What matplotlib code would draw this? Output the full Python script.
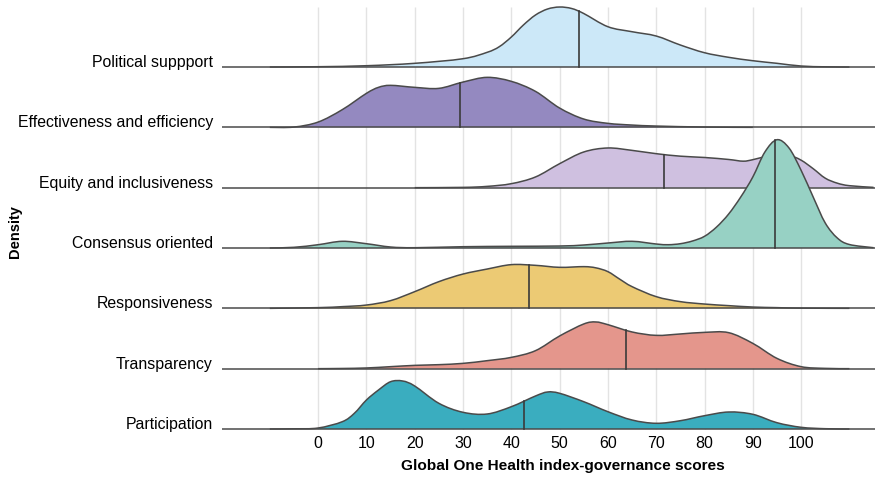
import numpy as np
import matplotlib
matplotlib.use("Agg")
import matplotlib.pyplot as plt
from matplotlib.path import Path
from matplotlib.patches import PathPatch

plt.rcParams["font.family"] = ["Liberation Sans", "DejaVu Sans"]

# Ridge data (x = score, h = ridge height, arbitrary units)
categories = ["Political suppport", "Effectiveness and efficiency", "Equity and inclusiveness",
              "Consensus oriented", "Responsiveness", "Transparency", "Participation"]
colors = ["#cce8f8", "#9489c0", "#cfc0e0", "#97d1c4", "#ecca74", "#e4968c", "#3aadbf"]

political_x = [-10, 0, 10, 20, 30, 35, 37.5, 40, 42.5, 45, 47.5, 50, 52.5, 55, 60, 65, 70, 75, 80, 85, 90, 95, 100, 105, 110]
political_h = [0, 0.3, 1.3, 3.7, 8.3, 14.7, 20.3, 30, 42, 52, 58, 60, 58.5, 53.5, 40.3, 35.3, 31, 22, 14.3, 9.7, 6.3, 3.7, 1, 0.2, 0]

effectiveness_x = [-10, -5, 0, 5, 10, 12.5, 15, 20, 25, 30, 35, 40, 45, 50, 55, 60, 65, 70, 80, 90]
effectiveness_h = [0, 0.3, 5.3, 17.7, 34, 40, 42, 40, 39, 45.3, 50, 46, 36, 19.3, 8.3, 4, 2.3, 1.3, 0.3, 0]

equity_x = [20, 30, 35, 40, 45, 50, 55, 60, 65, 70, 75, 80, 85, 88, 90, 92.5, 95, 97.5, 100, 102.5, 105, 107.5, 110, 115]
equity_h = [0, 0.3, 1.3, 4, 10.7, 24, 35.7, 39.7, 37.3, 34, 31.5, 30.2, 28.2, 26.5, 28, 31, 33, 32.5, 27.5, 19, 9.5, 4.5, 2, 0.3]

consensus_x = [-10, -5, 0, 5, 10, 15, 20, 30, 40, 50, 55, 60, 65, 70, 72.5, 75, 77.5, 80, 82.5, 85, 87.5,
               90, 92.5, 95, 97.5, 100, 102.5, 105, 107.5, 110, 115]
consensus_h = [0, 0.7, 3.3, 6.7, 4.3, 1, 0.3, 1.3, 1.7, 2, 3, 5, 6.7, 4, 3.3, 4.3, 7, 11.7, 21, 34, 51,
               71, 96, 108.3, 100, 77.7, 51, 25, 10, 3.5, 0.3]

responsiveness_x = [-10, 0, 5, 10, 15, 20, 25, 30, 35, 40, 45, 50, 55, 57.5, 60, 62.5, 65, 70, 75, 80, 85, 90, 95, 100, 110]
responsiveness_h = [0, 0.7, 1.7, 3.3, 7.7, 16.7, 26.7, 34.3, 39.3, 43.7, 43, 41, 41.7, 40.5, 36.7, 29, 21.7, 11.7, 6.7, 4.3, 2.7, 1.3, 0.7, 0.2, 0]

transparency_x = [0, 5, 10, 15, 20, 25, 30, 35, 40, 45, 50, 55, 57.5, 60, 65, 70, 75, 80, 85, 90, 95, 100, 105, 110]
transparency_h = [0, 0.2, 0.7, 2, 3.3, 4, 5.3, 8, 11.3, 18, 32.7, 44.7, 46.7, 44, 36.7, 33.3, 34.7, 36.3, 36, 25.3, 10.3, 2, 0.3, 0]

participation_x = [-10, -5, 0, 5, 7.5, 10, 12.5, 15, 17.5, 20, 25, 30, 35, 40, 45, 47.5, 50, 55, 60, 65, 70, 75, 80, 85, 90, 95, 100, 105, 110]
participation_h = [0, 0.2, 1, 7.3, 15.7, 29, 39, 47.3, 48, 43, 25.7, 16.7, 15, 22.3, 33, 37, 35.7, 27.3, 17.3, 9, 5.7, 8.3, 13.3, 17, 14.7, 6.3, 1.7, 0.3, 0]

# Median score of each category
medians = [54.0, 29.3, 71.6, 94.6, 43.7, 63.8, 42.6]

ridges_x = [political_x, effectiveness_x, equity_x, consensus_x, responsiveness_x, transparency_x, participation_x]
ridges_h = [political_h, effectiveness_h, equity_h, consensus_h, responsiveness_h, transparency_h, participation_h]

x_ticks = list(range(0, 101, 10))


def bezier_segments(x, y):
    """Catmull-Rom control points, so the drawn path runs smoothly through the read points."""
    pts = np.column_stack([x, y])
    padded = np.vstack([pts[0], pts, pts[-1]])
    segs = []
    for i in range(len(pts) - 1):
        p0, p1, p2, p3 = padded[i], padded[i + 1], padded[i + 2], padded[i + 3]
        c1 = p1 + (p2 - p0) / 6.0
        c2 = p2 - (p3 - p1) / 6.0
        segs.append((p1, c1, c2, p2))
    return segs


def curve_verts(segs):
    verts = [segs[0][0]]
    codes = [Path.MOVETO]
    for p1, c1, c2, p2 in segs:
        verts += [c1, c2, p2]
        codes += [Path.CURVE4] * 3
    return verts, codes


def height_at(segs, xv):
    # find the point of the path at score xv (bisection on the segment)
    for p1, c1, c2, p2 in segs:
        if p1[0] <= xv <= p2[0]:
            lo, hi = 0.0, 1.0
            for _ in range(40):
                t = (lo + hi) / 2
                bx = (1 - t) ** 3 * p1[0] + 3 * (1 - t) ** 2 * t * c1[0] + 3 * (1 - t) * t ** 2 * c2[0] + t ** 3 * p2[0]
                if bx < xv:
                    lo = t
                else:
                    hi = t
            t = (lo + hi) / 2
            return (1 - t) ** 3 * p1[1] + 3 * (1 - t) ** 2 * t * c1[1] + 3 * (1 - t) * t ** 2 * c2[1] + t ** 3 * p2[1]
    return 0.0


# Layout
row_height = 60.33  # ridge height units per row
fig = plt.figure(figsize=(8.75, 4.79), dpi=100)
ax = fig.add_axes([222 / 875, 47 / 479, 653 / 875, 432 / 479])
ax.set_xlim(-19.9, 115.3)
ax.set_ylim(-3 / row_height, 432 / row_height - 3 / row_height)

# Vertical grid
ax.vlines(x_ticks, 0, 422 / row_height, color="#e3e3e3", lw=1, zorder=0)

n = len(categories)
for i, (name, color) in enumerate(zip(categories, colors)):
    base = n - 1 - i
    x = np.array(ridges_x[i], dtype=float)
    h = base + np.array(ridges_h[i], dtype=float) / row_height
    z = 2 + i * 3
    segs = bezier_segments(x, h)
    verts, codes = curve_verts(segs)

    # filled ridge
    fill_verts = verts + [(x[-1], base), (x[0], base), (x[0], base)]
    fill_codes = codes + [Path.LINETO, Path.LINETO, Path.CLOSEPOLY]
    ax.add_patch(PathPatch(Path(fill_verts, fill_codes), facecolor=color, lw=0, zorder=z))

    # baseline and outline
    ax.hlines(base, -19.9, 115.3, color="#4a4a4a", lw=1.1, zorder=z + 1)
    ax.add_patch(PathPatch(Path(verts, codes), facecolor="none", edgecolor="#4a4a4a", lw=1.1, zorder=z + 1))

    # median line
    top = height_at(segs, medians[i])
    ax.plot([medians[i], medians[i]], [base, top], color="#3a3a3a", lw=1.2, zorder=z + 2)

ax.set_yticks([n - 1 - i + 6 / row_height for i in range(n)])
ax.set_yticklabels(categories, fontsize=11.4)
ax.set_xticks(x_ticks)
ax.set_xticklabels([str(t) for t in x_ticks], fontsize=11.5)
ax.tick_params(axis="y", length=0, pad=6.5)
ax.tick_params(axis="x", length=0, pad=3)
ax.set_xlabel("Global One Health index-governance scores", fontsize=11.1, fontweight="bold")
ax.xaxis.set_label_coords((563 - 222) / 653, -27 / 432)
for spine in ax.spines.values():
    spine.set_visible(False)

fig.text(15 / 875, 1 - 232 / 479, "Density", rotation=90, fontsize=10.5, fontweight="bold",
         ha="center", va="center")

fig.savefig("out.png", dpi=100)
